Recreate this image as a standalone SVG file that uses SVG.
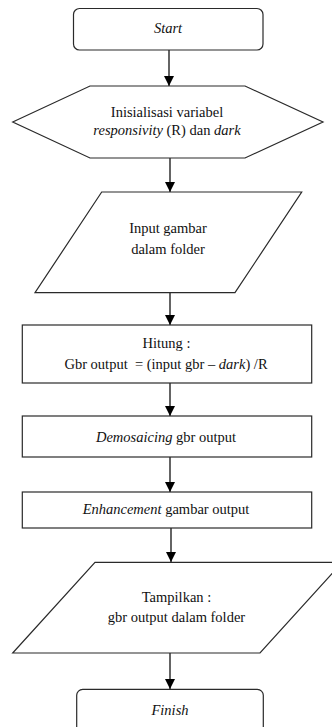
<svg xmlns="http://www.w3.org/2000/svg" width="332" height="727" viewBox="0 0 332 727">
<style>
.s{fill:#fff;stroke:#2a2a2a;stroke-width:1.2}
.t{font-family:'Liberation Serif','DejaVu Serif',serif;font-size:14.5px;fill:#111;text-anchor:middle}
.i{font-style:italic}
.c{stroke:#111;stroke-width:1.3;fill:none}
</style>
<defs>
<marker id="ah" viewBox="0 0 10 10" refX="10" refY="5" markerWidth="10" markerHeight="12" markerUnits="userSpaceOnUse" orient="auto">
<path d="M0,0L10,5L0,10z" fill="#000"/>
</marker>
</defs>
<rect width="332" height="727" fill="#fff"/>
<g id="connectors">
<line class="c" x1="169" y1="50" x2="169" y2="86" marker-end="url(#ah)"/>
<line class="c" x1="170" y1="158" x2="170" y2="192" marker-end="url(#ah)"/>
<line class="c" x1="170" y1="293" x2="170" y2="325" marker-end="url(#ah)"/>
<line class="c" x1="170" y1="383" x2="170" y2="416" marker-end="url(#ah)"/>
<line class="c" x1="170" y1="457" x2="170" y2="492" marker-end="url(#ah)"/>
<line class="c" x1="171" y1="528" x2="171" y2="562" marker-end="url(#ah)"/>
<line class="c" x1="170" y1="653" x2="170" y2="689" marker-end="url(#ah)"/>
</g>
<g id="start">
<rect class="s" x="73.5" y="8.5" width="189.5" height="41.5" rx="6"/>
<text class="t i" x="168" y="33" font-family="Liberation Serif, serif">Start</text>
</g>
<g id="init">
<polygon class="s" points="12.7,122 90,86 245,86 323,122 245,158 90,158"/>
<text class="t" x="167" y="117" font-family="Liberation Serif, serif">Inisialisasi variabel</text>
<text class="t" x="167" y="135" font-family="Liberation Serif, serif"><tspan class="i">responsivity</tspan> (R) dan <tspan class="i">dark</tspan></text>
</g>
<g id="input">
<polygon class="s" points="101.7,192 301.7,192 235,292.7 35,292.7"/>
<text class="t" x="168" y="233" font-family="Liberation Serif, serif">Input gambar</text>
<text class="t" x="168" y="254" font-family="Liberation Serif, serif">dalam folder</text>
</g>
<g id="hitung">
<rect class="s" x="22.3" y="325" width="289.4" height="58"/>
<text class="t" x="166.5" y="348" font-family="Liberation Serif, serif">Hitung :</text>
<text class="t" x="166" y="369" font-family="Liberation Serif, serif" xml:space="preserve">Gbr output  = (input gbr – <tspan class="i">dark</tspan>) /R</text>
</g>
<g id="demosaicing">
<rect class="s" x="22.3" y="416" width="289.4" height="41"/>
<text class="t" x="166" y="442" font-family="Liberation Serif, serif"><tspan class="i">Demosaicing</tspan> gbr output</text>
</g>
<g id="enhancement">
<rect class="s" x="22.3" y="492" width="289.4" height="36"/>
<text class="t" x="166" y="514" font-family="Liberation Serif, serif"><tspan class="i">Enhancement</tspan> gambar output</text>
</g>
<g id="tampilkan">
<polygon class="s" points="95,562.3 342.3,562.3 260,653 12.7,653"/>
<text class="t" x="176.5" y="602" font-family="Liberation Serif, serif">Tampilkan :</text>
<text class="t" x="176.5" y="622" font-family="Liberation Serif, serif">gbr output dalam folder</text>
</g>
<g id="finish">
<rect class="s" x="76.7" y="689.3" width="186.6" height="50" rx="6"/>
<text class="t i" x="170" y="715" font-family="Liberation Serif, serif">Finish</text>
</g>
</svg>
